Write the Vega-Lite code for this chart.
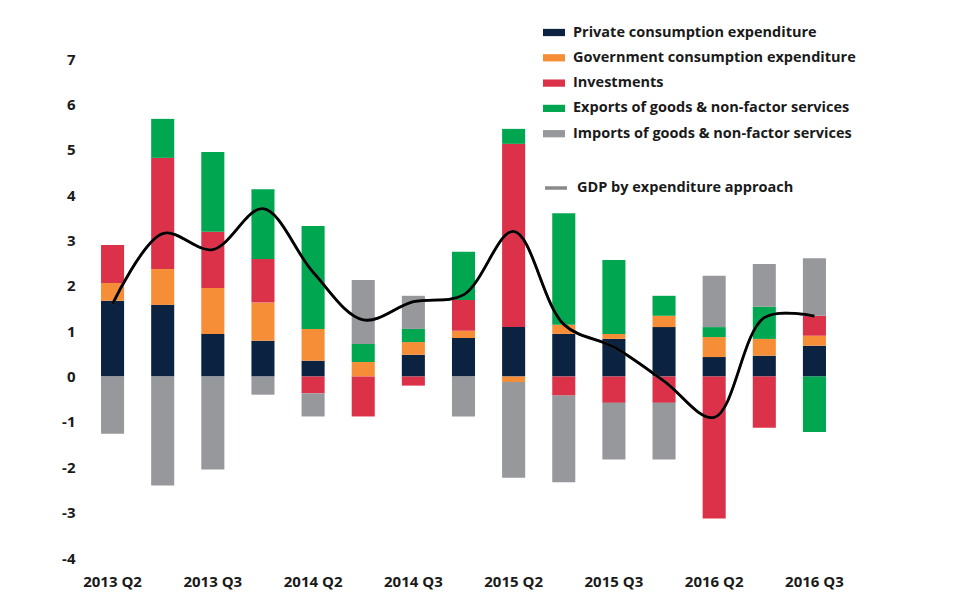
{
  "$schema": "https://vega.github.io/schema/vega-lite/v6.json",
  "width": 747,
  "height": 499,
  "autosize": {"type": "none"},
  "padding": {"left": 90, "top": 59, "right": 126, "bottom": 55},
  "background": "#ffffff",
  "config": {
    "view": {"stroke": null},
    "font": "Open Sans",
    "axis": {"labelFont": "Open Sans", "labelFontWeight": "bold", "labelFontSize": 15, "labelColor": "#1a1a1a"},
    "legend": {"labelFont": "Open Sans", "labelFontWeight": "bold", "labelFontSize": 14.5, "labelColor": "#1a1a1a", "padding": 0}
  },
  "data": {
    "values": [
      {"n": 1, "Private consumption expenditure": 1.67, "Government consumption expenditure": 0.39, "Investments": 0.84, "Exports of goods & non-factor services": 0, "Imports of goods & non-factor services": -1.26, "GDP": 1.6},
      {"n": 2, "Private consumption expenditure": 1.58, "Government consumption expenditure": 0.79, "Investments": 2.45, "Exports of goods & non-factor services": 0.86, "Imports of goods & non-factor services": -2.4, "GDP": 3.15},
      {"n": 3, "Private consumption expenditure": 0.94, "Government consumption expenditure": 1.01, "Investments": 1.24, "Exports of goods & non-factor services": 1.76, "Imports of goods & non-factor services": -2.05, "GDP": 2.8},
      {"n": 4, "Private consumption expenditure": 0.79, "Government consumption expenditure": 0.84, "Investments": 0.96, "Exports of goods & non-factor services": 1.54, "Imports of goods & non-factor services": -0.4, "GDP": 3.7},
      {"n": 5, "Private consumption expenditure": 0.35, "Government consumption expenditure": 0.7, "Investments": -0.37, "Exports of goods & non-factor services": 2.27, "Imports of goods & non-factor services": -0.51, "GDP": 2.3},
      {"n": 6, "Private consumption expenditure": 0, "Government consumption expenditure": 0.32, "Investments": -0.88, "Exports of goods & non-factor services": 0.4, "Imports of goods & non-factor services": 1.41, "GDP": 1.25},
      {"n": 7, "Private consumption expenditure": 0.48, "Government consumption expenditure": 0.28, "Investments": -0.2, "Exports of goods & non-factor services": 0.29, "Imports of goods & non-factor services": 0.73, "GDP": 1.65},
      {"n": 8, "Private consumption expenditure": 0.85, "Government consumption expenditure": 0.16, "Investments": 0.68, "Exports of goods & non-factor services": 1.06, "Imports of goods & non-factor services": -0.88, "GDP": 1.8},
      {"n": 9, "Private consumption expenditure": 1.09, "Government consumption expenditure": -0.12, "Investments": 4.04, "Exports of goods & non-factor services": 0.33, "Imports of goods & non-factor services": -2.11, "GDP": 3.2},
      {"n": 10, "Private consumption expenditure": 0.94, "Government consumption expenditure": 0.2, "Investments": -0.42, "Exports of goods & non-factor services": 2.46, "Imports of goods & non-factor services": -1.91, "GDP": 1.15},
      {"n": 11, "Private consumption expenditure": 0.83, "Government consumption expenditure": 0.11, "Investments": -0.58, "Exports of goods & non-factor services": 1.63, "Imports of goods & non-factor services": -1.25, "GDP": 0.65},
      {"n": 12, "Private consumption expenditure": 1.09, "Government consumption expenditure": 0.25, "Investments": -0.58, "Exports of goods & non-factor services": 0.44, "Imports of goods & non-factor services": -1.25, "GDP": -0.1},
      {"n": 13, "Private consumption expenditure": 0.43, "Government consumption expenditure": 0.44, "Investments": -3.13, "Exports of goods & non-factor services": 0.22, "Imports of goods & non-factor services": 1.13, "GDP": -0.9},
      {"n": 14, "Private consumption expenditure": 0.46, "Government consumption expenditure": 0.37, "Investments": -1.13, "Exports of goods & non-factor services": 0.71, "Imports of goods & non-factor services": 0.94, "GDP": 1.3},
      {"n": 15, "Private consumption expenditure": 0.68, "Government consumption expenditure": 0.22, "Investments": 0.44, "Exports of goods & non-factor services": -1.22, "Imports of goods & non-factor services": 1.27, "GDP": 1.33}
    ]
  },
  "encoding": {
    "x": {
      "field": "n",
      "type": "ordinal",
      "scale": {"type": "band", "paddingInner": 0.54, "paddingOuter": 0.22},
      "axis": {
        "title": null,
        "ticks": false,
        "domain": false,
        "labelAngle": 0,
        "labelPadding": 16,
        "labelExpr": "['2013 Q2','','2013 Q3','','2014 Q2','','2014 Q3','','2015 Q2','','2015 Q3','','2016 Q2','','2016 Q3'][datum.value-1]"
      }
    }
  },
  "layer": [
    {
      "transform": [
        {"fold": ["Private consumption expenditure", "Government consumption expenditure", "Investments", "Exports of goods & non-factor services", "Imports of goods & non-factor services"], "as": ["component", "value"]},
        {"calculate": "indexof(['Private consumption expenditure','Government consumption expenditure','Investments','Exports of goods & non-factor services','Imports of goods & non-factor services'], datum.component)", "as": "k"}
      ],
      "mark": {"type": "bar"},
      "encoding": {
        "y": {
          "field": "value",
          "type": "quantitative",
          "stack": "zero",
          "scale": {"domain": [-4, 7], "nice": false},
          "axis": {"title": null, "grid": false, "domain": false, "ticks": false, "values": [-4, -3, -2, -1, 0, 1, 2, 3, 4, 5, 6, 7], "labelPadding": 15, "labelExpr": "toString(datum.value)"}
        },
        "color": {
          "field": "component",
          "type": "nominal",
          "scale": {
            "domain": ["Private consumption expenditure", "Government consumption expenditure", "Investments", "Exports of goods & non-factor services", "Imports of goods & non-factor services"],
            "range": ["#0b2341", "#f68e38", "#dc3249", "#00a650", "#97989c"]
          },
          "legend": {
            "title": null,
            "orient": "none",
            "legendX": 453,
            "legendY": -37.5,
            "symbolType": "M-1,-0.33H1V0.33H-1Z",
            "symbolSize": 484,
            "symbolStrokeWidth": 0,
            "labelOffset": 8,
            "labelLimit": 400,
            "rowPadding": 7.3
          }
        },
        "order": {"field": "k", "type": "quantitative"}
      }
    },
    {
      "mark": {"type": "rule", "color": "#858585", "strokeWidth": 2.5},
      "encoding": {"y": {"datum": 0}}
    },
    {
      "mark": {"type": "line", "interpolate": "catmull-rom", "strokeWidth": 2.6},
      "encoding": {
        "y": {"field": "GDP", "type": "quantitative"},
        "stroke": {
          "datum": "GDP by expenditure approach",
          "scale": {"range": ["#8a8a8a"]},
          "legend": {
            "title": null,
            "orient": "none",
            "legendX": 453,
            "legendY": 116,
            "symbolType": "stroke",
            "symbolSize": 484,
            "symbolStrokeWidth": 3.5,
            "labelOffset": 8,
            "labelLimit": 400
          }
        }
      }
    },
    {
      "mark": {"type": "line", "interpolate": "catmull-rom", "strokeWidth": 2.8, "color": "#000000"},
      "encoding": {
        "y": {"field": "GDP", "type": "quantitative"}
      }
    }
  ]
}
